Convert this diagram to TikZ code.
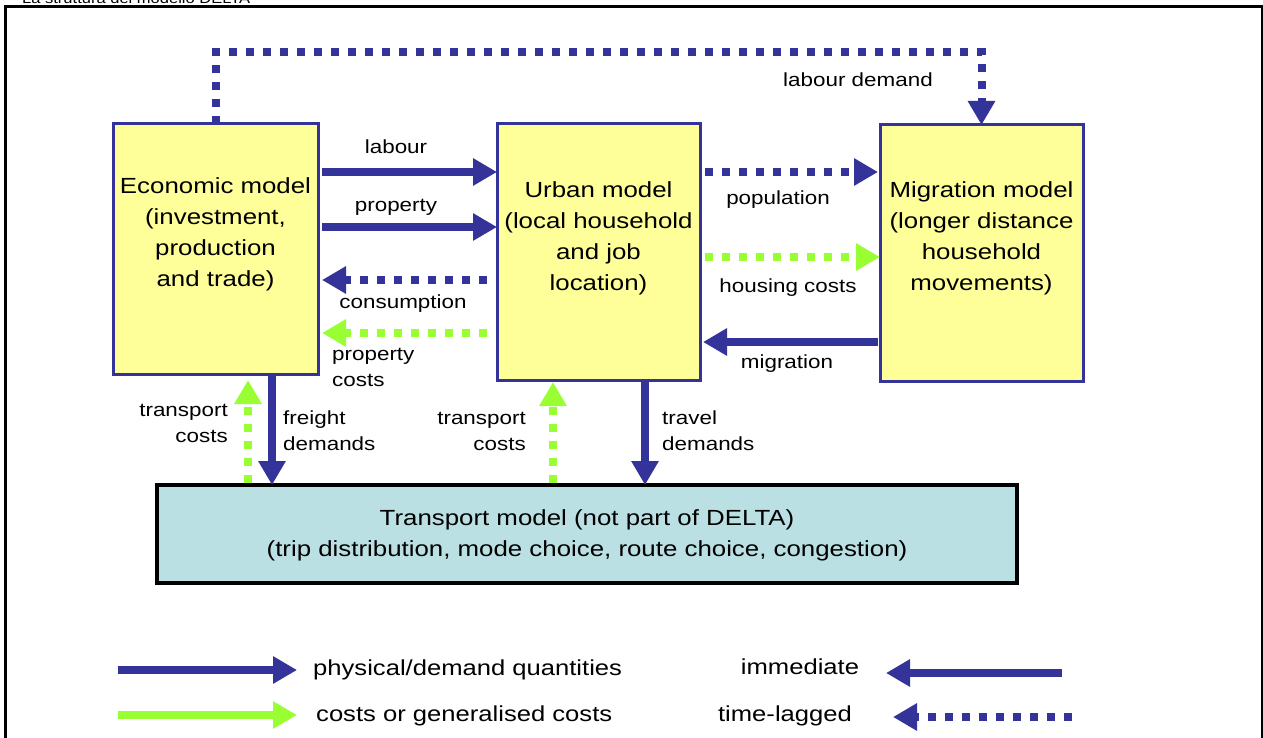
\documentclass[tikz,border=0pt]{standalone}
\usepackage{fontspec}
\setmainfont[FakeStretch=1.18]{Liberation Sans}
\usetikzlibrary{arrows.meta}

\definecolor{flowblue}{RGB}{51,51,153}
\definecolor{costgreen}{RGB}{153,255,51}
\definecolor{modelyellow}{RGB}{255,255,153}
\definecolor{transportcyan}{RGB}{187,224,227}

\begin{document}
\begin{tikzpicture}[x=1pt,y=-1pt,
  model/.style={draw=flowblue,line width=3pt,fill=modelyellow,outer sep=0pt,inner sep=0pt},
  boxtext/.style={font=\fontsize{21.9}{31}\selectfont,align=center,inner sep=0pt},
  lbl/.style={font=\fontsize{19}{26}\selectfont,inner sep=0pt},
  legtext/.style={font=\fontsize{21.7}{26}\selectfont,inner sep=0pt},
  flow/.style={line width=8pt,-{Triangle[length=24pt,width=26pt]}},
  quantity/.style={flow,color=flowblue},
  cost/.style={flow,color=costgreen},
  lagged/.style={dash pattern=on 8pt off 9pt}
]
\clip (0,0) rectangle (1263,738);

% caption cut by the page edge and the outer frame
\node[anchor=base west,inner sep=0pt,font=\fontsize{14}{16}\selectfont] (caption) at (22,4) {La struttura del modello DELTA};
\draw[line width=3pt] (5,7) rectangle (1262,760);

% the four models
\node[model,minimum width=205pt,minimum height=250pt] (eco) at (215.5,249) {};
\node[model,minimum width=203pt,minimum height=256pt] (urb) at (598.5,252) {};
\node[model,minimum width=203pt,minimum height=256pt] (mig) at (981.5,253) {};
\node[draw=black,line width=4pt,fill=transportcyan,outer sep=0pt,inner sep=0pt,
      minimum width=860pt,minimum height=98pt] (tra) at (587,534) {};

\node[boxtext] (ecotext) at ([yshift=14.5pt]eco.center) {Economic model\\(investment,\\production\\and trade)};
\node[boxtext] (urbtext) at ([yshift=14pt]urb.center) {Urban model\\(local household\\and job\\location)};
\node[boxtext] (migtext) at ([yshift=14.5pt]mig.center) {Migration model\\(longer distance\\household\\movements)};
\node[boxtext] (tratext) at ([yshift=-1.5pt]tra.center) {Transport model (not part of DELTA)\\(trip distribution, mode choice, route choice, congestion)};

% connectors between the models
\draw[quantity,lagged] (eco.north) -- ++(0,-72) -| (mig.north);
\draw[quantity,shorten <=4pt] (eco.east |- 0,172) -- (urb.west |- 0,172);
\draw[quantity,shorten <=4pt] (eco.east |- 0,227) -- (urb.west |- 0,227);
\draw[quantity,lagged,shorten <=10pt,shorten >=4pt] (urb.west |- 0,280) -- (eco.east |- 0,280);
\draw[cost,lagged,shorten <=10pt,shorten >=4pt] (urb.west |- 0,333) -- (eco.east |- 0,333);
\draw[quantity,lagged,shorten <=5pt,shorten >=2pt] (urb.east |- 0,172) -- (mig.west |- 0,172);
\draw[cost,lagged,shorten <=5pt] (urb.east |- 0,257) -- (mig.west |- 0,257);
\draw[quantity,shorten <=2pt,shorten >=3pt] (mig.west |- 0,342) -- (urb.east |- 0,342);
\draw[quantity] (eco.south -| 272,0) -- (tra.north -| 272,0);
\draw[cost,lagged,shorten <=2pt,shorten >=6pt] (tra.north -| 248,0) -- (eco.south -| 248,0);
\draw[cost,lagged,shorten <=2pt,shorten >=2pt] (tra.north -| 553,0) -- (urb.south -| 553,0);
\draw[quantity] (urb.south -| 645,0) -- (tra.north -| 645,0);

% connector labels
\node[lbl] (l-labdem) at (858,80) {labour demand};
\node[lbl] (l-labour) at (396,147) {labour};
\node[lbl] (l-prop) at (396,207) {property};
\node[lbl] (l-cons) at (403,304) {consumption};
\node[lbl,align=left,anchor=west] (l-propc) at (332,367) {property\\costs};
\node[lbl] (l-pop) at (778,200) {population};
\node[lbl] (l-house) at (788,288) {housing costs};
\node[lbl] (l-migr) at (787,364) {migration};
\node[lbl,align=right,anchor=east] (l-tc1) at (228,423) {transport\\costs};
\node[lbl,align=left,anchor=west] (l-freight) at (283,431) {freight\\demands};
\node[lbl,align=right,anchor=east] (l-tc2) at (526,431) {transport\\costs};
\node[lbl,align=left,anchor=west] (l-travel) at (662,431) {travel\\demands};

% key
\coordinate (k1a) at (118,670); \coordinate (k1b) at (297,670);
\coordinate (k2a) at (118,715); \coordinate (k2b) at (297,715);
\coordinate (k3a) at (1062,673); \coordinate (k3b) at (886,673);
\coordinate (k4a) at (1072,717); \coordinate (k4b) at (893,717);
\draw[quantity] (k1a) -- (k1b);
\draw[cost] (k2a) -- (k2b);
\draw[quantity] (k3a) -- (k3b);
\draw[quantity,lagged] (k4a) -- (k4b);
\node[legtext,anchor=west] (t1) at (313,670) {physical/demand quantities};
\node[legtext,anchor=west] (t2) at (316,716) {costs or generalised costs};
\node[legtext] (t3) at (800,667) {immediate};
\node[legtext] (t4) at (785,716) {time-lagged};
\end{tikzpicture}
\end{document}
